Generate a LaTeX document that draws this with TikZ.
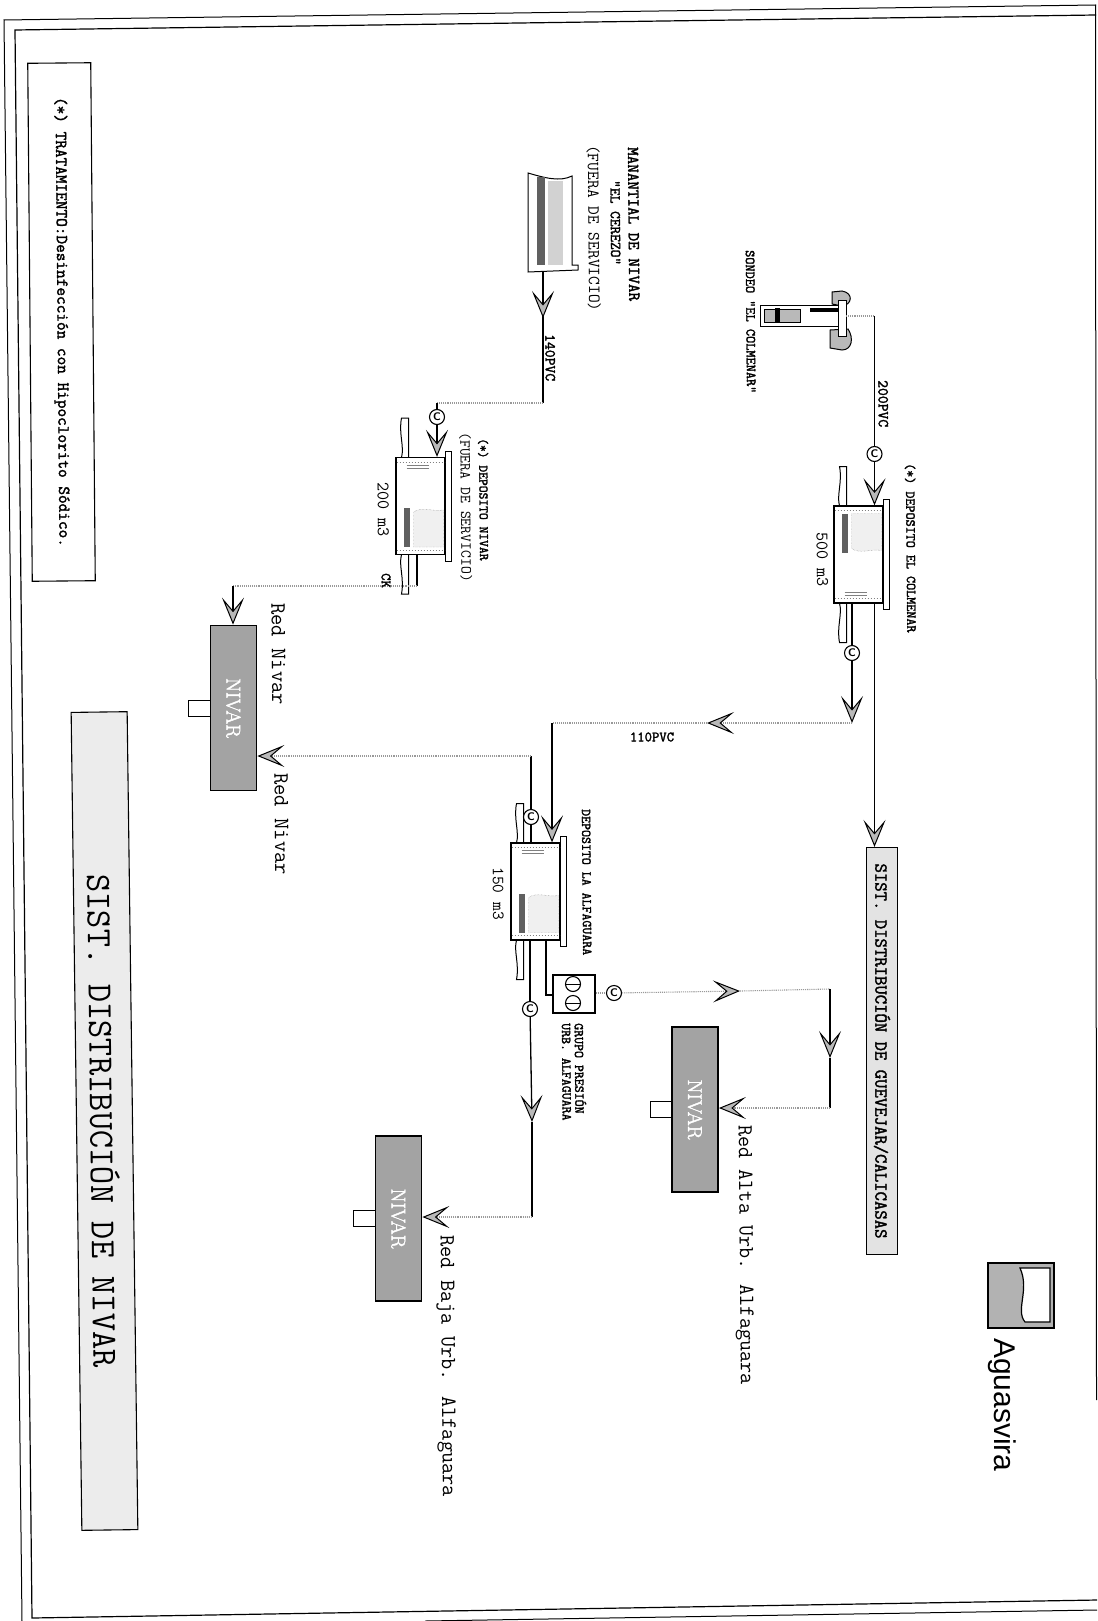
\documentclass[tikz,border=0pt]{standalone}
\usepackage{fontspec}
\usetikzlibrary{arrows.meta}
\newfontfamily\logofont{Liberation Sans}
\newfontfamily\slabfont[FakeBold=2]{Latin Modern Mono}
\newfontfamily\netfont[FakeBold=2]{Latin Modern Roman}
\tikzset{
  flow/.tip={Stealth[length=27pt,width=22pt,inset=13pt,black,fill=gray!55,line width=1pt]},
  pipe/.style={black,line width=1.3pt},
  faint/.style={gray!80,line width=1.1pt,densely dotted},
  valve/.style={circle,draw,line width=1.1pt,fill=white,minimum size=15pt,inner sep=0pt,font=\sffamily\bfseries\fontsize{11}{11}\selectfont},
  tankbox/.style={draw,line width=1.3pt,minimum width=49pt,minimum height=97pt,inner sep=0pt},
  wall/.style={black,line width=1pt},
  net/.style={draw,line width=1.8pt,fill=gray!72,minimum width=46pt,minimum height=165pt,inner sep=0pt},
  nettext/.style={white,rotate=-90,font=\netfont\fontsize{20}{20}\selectfont},
  vlabel/.style={rotate=-89.5,anchor=west,inner sep=0pt,font=\ttfamily\fontsize{#1}{#1}\selectfont},
  vbold/.style={rotate=-89.5,anchor=west,inner sep=0pt,font=\slabfont\fontsize{#1}{#1}\selectfont},
}
\newcommand{\tankshape}[4]{
  \node[tankbox] (#1) at (#2,#3) {};
  \begin{scope}[shift={(#2,#3)},yscale=#4]
    \draw[wall,fill=white] (24.5,-55) rectangle (30.5,55);
    \draw[wall] (-19,-48.5) .. controls (-22,-60) and (-16,-72) .. (-19,-88) -- (-12,-88) -- (-12,-48.5);
    \draw[wall] (-19,48.5) .. controls (-16,60) and (-22,72) .. (-19,88) -- (-12,88) -- (-12,48.5);
    \fill[gray!75!black] (-17,-41) rectangle (-11,-2);
    \draw[gray,densely dotted,fill=gray!12] (-7,-41) -- (23,-41) -- (23,-4) .. controls (12,-6) and (2,0) .. (-7,-6) -- cycle;
    \draw[gray,dotted,line width=1pt] (-24,-44) -- (24,-44);
    \draw[gray,dotted,line width=1pt] (-24,44) -- (24,44);
    \draw[gray,line width=0.6pt] (-14,38) -- (8,38) (-14,41) -- (8,41);
  \end{scope}
}
\newcommand{\netbox}[3]{
  \draw[wall,fill=white] (#2-45,#3-8) rectangle (#2-23,#3+8);
  \node[net] (#1) at (#2,#3) {};
  \node[nettext] at (#1) {NIVAR};
}
\begin{document}
\begin{tikzpicture}[x=1pt,y=-1pt]
\useasboundingbox (0,0) rectangle (1097,1621);
\fill[white] (0,0) rectangle (1097,1621);

\draw[line width=1pt] (1096,5) -- (4,20) -- (22,1621);
\draw[line width=1.2pt] (1096,15) -- (15,30) -- (32,1618) -- (1097,1600);
\draw[line width=1pt] (425,1621) -- (1097,1610);
\draw[line width=1pt] (1095.5,5) -- (1096.5,1400);

\node[rotate=-89.5,draw,line width=1.1pt,minimum width=518pt,minimum height=63pt,inner sep=0pt,font=\slabfont\fontsize{16.8}{16.8}\selectfont] (legend) at (61.5,322) {(*) TRATAMIENTO:Desinfección con Hipoclorito Sódico.};
\node[rotate=-89.25,draw,line width=1.1pt,fill=gray!15,minimum width=818pt,minimum height=56pt,inner sep=0pt,font=\ttfamily\fontsize{35.5}{35.5}\selectfont] (title) at (104.5,1121) {SIST. DISTRIBUCIÓN DE NIVAR};
\node[rotate=-90,draw,line width=1.2pt,fill=gray!22,minimum width=407pt,minimum height=31pt,inner sep=0pt,font=\slabfont\fontsize{18.2}{18.2}\selectfont] (sist) at (882,1051) {SIST. DISTRIBUCIÓN DE GUEVEJAR/CALICASAS};

\draw[wall,fill=white] (760,305) rectangle (840,326);
\draw[wall,fill=gray!55] (764,309) rectangle (800,322);
\fill[black] (775,308) rectangle (780,323);
\fill[black] (810,308) rectangle (838,312);
\draw[wall,fill=gray!55] (832,292) -- (842,291) .. controls (854,293) and (852,305) .. (842,306) -- (832,304) -- cycle;
\draw[wall,fill=gray!55] (830,330) -- (848,329) .. controls (854,338) and (852,350) .. (842,350) -- (830,348) -- cycle;
\draw[wall,fill=white] (838,300) rectangle (846,336);
\coordinate (wellout) at (846,316);
\coordinate (wellbend) at (874.5,316);

\draw[wall] (578,265) -- (572,265) -- (572,176) .. controls (560,182) and (545,178) .. (528,173) -- (528,272) -- (578,270) -- cycle;
\fill[gray!75!black] (537,177) rectangle (545,265);
\fill[gray!35] (548,181) rectangle (563,265);
\coordinate (springout) at (543,272);
\coordinate (springflow) at (543,318);
\coordinate (springbend) at (543,403);

\tankshape{tanka}{858.5}{554.5}{1}
\tankshape{tankb}{420.5}{506}{-1}
\tankshape{tankc}{535.5}{891.5}{-1}

\node[valve] (valvea) at (874.5,454) {C};
\node[valve] (valveb) at (852,653) {C};
\node[valve] (valvec) at (437,417) {C};
\node[valve] (valved) at (531,817) {C};
\node[valve] (valvee) at (530,1009) {C};
\node[valve] (valvef) at (614,993) {C};

\node[draw,line width=1.1pt,fill=white,minimum width=42pt,minimum height=38pt,inner sep=0pt] (pump) at (574,994) {};
\node[valve,minimum size=15pt] (pumpa) at (573,984) {};
\node[valve,minimum size=15pt] (pumpb) at (573,1003) {};
\draw[wall] (pumpa.west) -- (pumpa.east);
\draw[wall] (pumpb.west) -- (pumpb.east);

\netbox{neta}{233.5}{708}
\netbox{netb}{695}{1109.5}
\netbox{netc}{398.5}{1218.5}

\draw[faint] (wellout) -- (wellbend);
\draw[pipe] (wellbend) -- (valvea);
\draw[pipe,-flow] (valvea) -- (valvea |- tanka.north);
\draw[pipe,-flow] (tanka.south -| valvea) -- (valvea |- sist.west);

\coordinate (bendb) at (852,723);
\coordinate (flowb) at (707,723);
\coordinate (bendc) at (552,723);
\draw[pipe] (tanka.south -| valveb) -- (valveb);
\draw[pipe,-flow] (valveb) -- (bendb);
\draw[faint,-flow] (bendb) -- (flowb);
\draw[faint] (flowb) -- (bendc);
\draw[pipe,-flow] (bendc) -- (bendc |- tankc.north);

\draw[pipe] (springout) -- (springbend);
\draw[pipe,-flow] (springout) -- (springflow);
\draw[faint] (springbend) -- (valvec |- springbend);
\draw[pipe] (valvec |- springbend) -- (valvec);
\draw[pipe,-flow] (valvec) -- (valvec |- tankb.north);

\coordinate (outb) at (417,586);
\coordinate (bendd) at (233,586);
\draw[pipe] (tankb.south -| outb) -- (outb);
\draw[faint] (outb) -- (bendd);
\draw[pipe,-flow] (bendd) -- (bendd |- neta.north);

\coordinate (bende) at (531,756);
\draw[pipe] (tankc.north -| valved) -- (valved);
\draw[pipe] (valved) -- (bende);
\draw[faint,-flow] (bende) -- (neta.east |- bende);

\coordinate (bendf) at (532,1217);
\coordinate (flowf) at (532,1122);
\draw[pipe] (tankc.south -| valvee) -- (valvee);
\draw[pipe,-flow] (valvee) -- (flowf);
\draw[pipe] (flowf) -- (bendf);
\draw[faint,-flow] (bendf) -- (netc.east |- bendf);

\coordinate (pumpin) at (546,995);
\draw[pipe] (tankc.south -| pumpin) -- (pumpin) -- (pump.west |- pumpin);
\draw[faint] (pump.east |- valvef) -- (valvef);
\coordinate (flowg) at (740,991);
\coordinate (bendg) at (830,989);
\coordinate (flowh) at (830,1058);
\coordinate (bendh) at (830,1108);
\draw[faint,-flow] (valvef) -- (flowg);
\draw[faint] (flowg) -- (bendg);
\draw[pipe,-flow] (bendg) -- (flowh);
\draw[pipe] (flowh) -- (bendh);
\draw[faint,-flow] (bendh) -- (netb.east |- bendh);

\node[vbold=13.9] (sondeolabel) at (750,250) {SONDEO "EL COLMENAR"};
\node[vbold=15.2] (pipea) at (883,380) {200PVC};
\node[vbold=13.7] (tankalabel) at (910,463) {(*) DEPOSITO EL COLMENAR};
\node[vlabel=17.7] (tankavol) at (822,532) {500 m3};
\node[vbold=16.6] (springa) at (633,147) {MANANTIAL DE NIVAR};
\node[vbold=15] (springb) at (615,180) {"EL CEREZO"};
\node[vlabel=17] (springc) at (593,145) {(FUERA DE SERVICIO)};
\node[vbold=15.2] (pipec) at (550,334) {140PVC};
\node[vbold=13.2] (tankblabel) at (483,438) {(*) DEPOSITO NIVAR};
\node[vlabel=15.3] (tankbstate) at (465,432) {(FUERA DE SERVICIO)};
\node[vlabel=17.7] (tankbvol) at (383,482) {200 m3};
\node[vbold=14.3] (ck) at (386,573) {CK};
\node[vbold=13.5] (tankclabel) at (586,809) {DEPOSITO LA ALFAGUARA};
\node[vlabel=17] (tankcvol) at (498,867) {150 m3};
\node[font=\slabfont\fontsize{14.3}{14.3}\selectfont,inner sep=0pt] (pipeb) at (652,737) {110PVC};
\node[vbold=13.5] (grupoa) at (580,1023) {GRUPO PRESIÓN};
\node[vbold=13.5] (grupob) at (566,1023) {URB. ALFAGUARA};
\node[vlabel=22] (reda) at (278,603) {Red Nivar};
\node[vlabel=22] (redb) at (281,773) {Red Nivar};
\node[vlabel=21.6] (redc) at (743,1125) {Red Alta Urb. Alfaguara};
\node[vlabel=21.8] (redd) at (445,1235) {Red Baja Urb. Alfaguara};

\draw[line width=1.5pt,fill=gray!60] (988,1263) rectangle (1054,1328);
\draw[line width=1.2pt,fill=white] (1050,1268) -- (1050,1322) -- (1025,1322) .. controls (1015,1310) and (1030,1290) .. (1020,1268) -- cycle;
\node[rotate=-90,anchor=west,inner sep=0pt,font=\logofont\fontsize{30}{30}\selectfont] (logo) at (1002,1338) {Aguasvira};
\end{tikzpicture}
\end{document}
